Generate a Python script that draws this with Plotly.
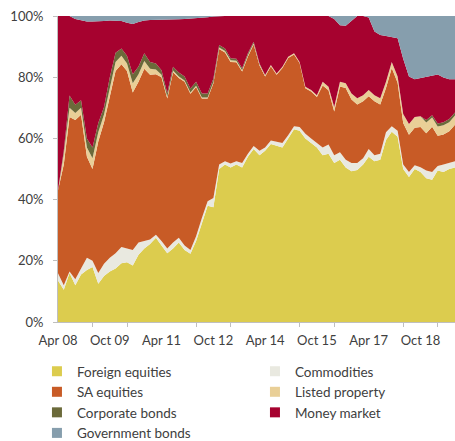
import pandas as pd
import plotly.graph_objects as go

# Bi-monthly observations, Apr 2008 .. Oct 2019 (percent of portfolio)
dates = pd.date_range("2008-04-01", periods=70, freq="2MS")

foreign_equities = [13.6, 10.5, 16, 12, 15.5, 17, 18, 12.5, 15, 16.5, 17.5, 19.2, 19.5, 18.5, 22, 24, 25.5, 27.5,
                    25, 22.5, 24, 26, 23.5, 22.3, 26.5, 32, 38, 37.5, 50, 51.5, 50.5, 51.5, 50.5, 54, 56.5, 54.5,
                    56, 58.2, 57.5, 57, 60, 63, 62.5, 60, 58.5, 57, 54.5, 55, 52, 53, 50.5, 49.3, 49.7, 51.5,
                    54, 52.5, 53, 59.5, 62.2, 60.5, 50, 47.4, 50, 49, 47, 46.5, 49.5, 49, 50, 50.5]
commodities = [2.3, 1.5, 0.5, 2, 2, 4, 2, 3.5, 4, 4.5, 5, 5.3, 4.5, 5, 4, 2.5, 1.5, 1,
               1.5, 1.5, 2, 1.5, 1.5, 1.2, 1.5, 2, 1.5, 3, 1.5, 1, 1.3, 1, 1.5, 1, 1, 1.5,
               1, 1.1, 1.5, 1.5, 1, 1, 1.2, 1.5, 1.5, 1.5, 2.5, 3, 2.5, 2.5, 2.5, 2.7, 2.3, 2,
               2.5, 2, 2, 2.5, 1.8, 2, 1.5, 1.6, 1.2, 1.6, 2.5, 2.5, 1.5, 2.5, 2, 2]
sa_equities = [27.1, 39.5, 50.5, 52, 50.2, 33, 30, 43, 46.3, 53, 59.5, 59.7, 58, 51.5, 52.5, 56.3, 53.8, 52.5,
               53.5, 49, 55.6, 52.2, 53.5, 51.1, 48.8, 39, 33.5, 37.5, 37.7, 35.6, 33.2, 32.4, 29.9, 31.8, 33.2, 27.8,
               23.2, 24.3, 21.8, 24.5, 25.3, 23.4, 20.9, 14.9, 15.3, 15, 20.3, 17.7, 14.3, 21.5, 23.5, 20.7, 19.1, 18.6,
               17.3, 17.6, 16.1, 14.5, 19, 15.7, 13.5, 12.2, 12.3, 13.1, 12.2, 14.8, 9.9, 9.8, 10.3, 12]
listed_property = [0, 3.5, 3, 2.3, 2.3, 3, 3.5, 3, 2.5, 3, 3, 2.8, 2.5, 3, 2.5, 2.5, 2, 1.5,
                   0.8, 0.6, 0.6, 0.5, 0.4, 0.4, 0.4, 0.4, 0.4, 0.4, 0.5, 0.5, 0.5, 0.5, 0.4, 0.4, 0.4, 0.4,
                   0.4, 0.4, 0.4, 0.4, 0.4, 0.4, 0.4, 0.5, 0.5, 0.6, 1.2, 1.2, 1.5, 1.5, 1.5, 2, 2, 2,
                   2, 2, 2, 2, 2, 2, 3, 3.5, 3.5, 3.5, 3.5, 3, 3, 3, 3, 3]
corporate_bonds = [0, 1, 4, 2.7, 2.5, 3, 3.5, 3, 2.5, 3, 3, 2.4, 2.5, 3, 2.5, 2.5, 2.2, 2,
                   1.5, 1.2, 1.2, 1.3, 1.3, 1.3, 1.3, 1.3, 1.3, 1.2, 0.8, 0.8, 0.7, 0.6, 0.6, 0.6, 0.5, 0.3,
                   0.1, 0, 0, 0, 0, 0, 0, 0, 0, 0, 0, 0, 0, 0, 0, 0, 0, 0,
                   0, 0, 0, 0, 0, 0, 0, 0, 0, 0, 0.8, 0.8, 1, 1, 1, 1]
money_market = [57, 44, 26, 28, 26, 38.2, 41.2, 33.4, 28.1, 18.5, 10.5, 9, 10.8, 16.4, 14.5, 10.7, 13.7, 14.2,
                16.5, 24, 15.4, 17.4, 18.8, 22.8, 20.7, 24.7, 24.9, 20.2, 9.5, 10.6, 13.8, 14, 17.1, 12.2, 8.4, 15.5,
                19.3, 16, 18.8, 16.6, 13.3, 12.2, 15, 23.1, 24.2, 25.9, 21.5, 23.1, 28.7, 18.5, 18.8, 23.8, 26.9, 25.9,
                23.7, 20.8, 20.7, 15, 8.2, 12.5, 18, 15.5, 12.3, 12.5, 14.1, 13, 16, 14.6, 13, 10.8]
government_bonds = [0, 0, 0, 1.0, 1.5, 1.8, 1.8, 1.6, 1.6, 1.5, 1.5, 1.6, 2.2, 2.6, 2.0, 1.5, 1.3, 1.3,
                    1.2, 1.2, 1.2, 1.1, 1.0, 0.9, 0.8, 0.6, 0.4, 0.2, 0, 0, 0, 0, 0, 0, 0, 0,
                    0, 0, 0, 0, 0, 0, 0, 0, 0, 0, 0, 0, 1.0, 3.0, 3.2, 1.5, 0, 0,
                    0.5, 5.1, 6.2, 6.5, 6.8, 7.3, 14, 19.8, 20.7, 20.3, 19.9, 19.4, 19.1, 20.1, 20.7, 20.7]

series = [
    ("Foreign equities", foreign_equities, "#DCCC4E"),
    ("Commodities", commodities, "#E9E9E0"),
    ("SA equities", sa_equities, "#C85B26"),
    ("Listed property", listed_property, "#E9CF97"),
    ("Corporate bonds", corporate_bonds, "#6B6A3A"),
    ("Money market", money_market, "#A6022F"),
    ("Government bonds", government_bonds, "#869EAD"),
]

FONT = "Lato, 'Open Sans', sans-serif"
TXT = "#404040"

fig = go.Figure()
for name, vals, col in series:
    fig.add_trace(go.Scatter(
        x=dates, y=vals, name=name, mode="lines", stackgroup="one", groupnorm="percent",
        line=dict(width=0, color=col), fillcolor=col, showlegend=False, hoverinfo="skip"))
for name, vals, col in series:
    fig.add_trace(go.Scatter(
        x=[None], y=[None], name=name, mode="markers",
        marker=dict(symbol="square", size=10, color=col), showlegend=True))

fig.update_layout(
    width=455, height=441,
    margin=dict(l=58, r=0, t=16, b=119, autoexpand=False),
    paper_bgcolor="white", plot_bgcolor="white",
    font=dict(family=FONT, size=13, color=TXT),
    showlegend=True,
    legend=dict(
        orientation="h", x=-0.053, xanchor="left", y=-0.111, yanchor="top",
        entrywidth=173, entrywidthmode="pixels", itemwidth=30,
        font=dict(family=FONT, size=13.5, color=TXT), traceorder="normal",
        bgcolor="rgba(0,0,0,0)"),
    xaxis=dict(
        type="date", range=[dates[0], dates[-1]],
        tick0="2008-04-01", dtick="M18", tickformat="%b %y", ticks="",
        showline=True, linecolor="#BFBFBF", linewidth=1, showgrid=False, zeroline=False,
        tickfont=dict(family=FONT, size=13, color=TXT), ticklabelstandoff=6,
        minor=dict(tick0="2008-04-01", dtick="M12", ticks="outside", ticklen=4,
                   tickcolor="#BFBFBF", tickwidth=1, showgrid=False)),
    yaxis=dict(
        range=[0, 100], dtick=20, ticksuffix="%",
        showline=True, linecolor="#BFBFBF", linewidth=1, showgrid=False, zeroline=False,
        ticks="outside", ticklen=4, tickcolor="#BFBFBF",
        tickfont=dict(family=FONT, size=13, color=TXT), ticklabelstandoff=7),
)

fig.write_html("out.html", config={"displayModeBar": False},
               post_script="document.body.style.margin='0';document.body.style.overflow='hidden';")
